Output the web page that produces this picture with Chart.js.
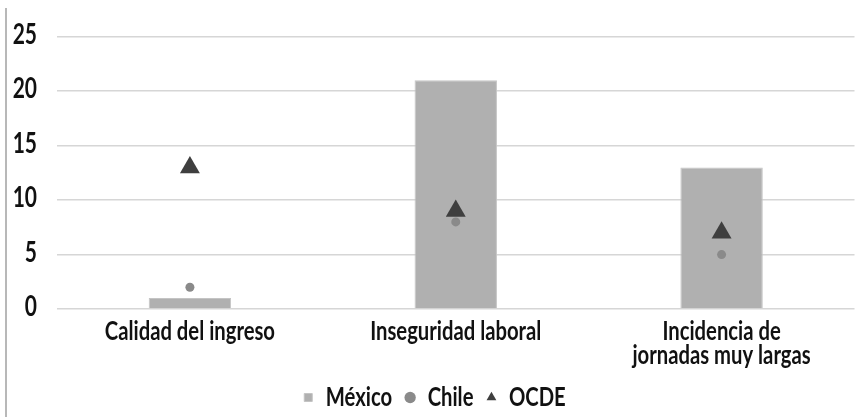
<!DOCTYPE html>
<html>
<head>
<meta charset="utf-8">
<script src="https://cdn.jsdelivr.net/npm/chart.js@4"></script>
<style>
  html, body { margin: 0; padding: 0; background: #fff; }
  #wrap { position: relative; width: 866px; height: 417px; }
</style>
</head>
<body>
<div id="wrap"><canvas id="c" width="866" height="417"></canvas></div>
<script>
// Categories and values per series
const categories = ['Calidad del ingreso', 'Inseguridad laboral', ['Incidencia de', 'jornadas muy largas']];
const mexico = [1, 21, 13];
const chile = [2, 8, 5];
const ocde = [13, 9, 7];
const yTicks = [0, 5, 10, 15, 20, 25];

const FAMILY = 'Lato, "DejaVu Sans", sans-serif';
// Horizontal squeeze applied to every text run, for a condensed look
const TEXT_SQUEEZE = 0.75;

const canvas = document.getElementById('c');
const ctx2d = canvas.getContext('2d');
const rawFillText = ctx2d.fillText.bind(ctx2d);
const rawMeasureText = ctx2d.measureText.bind(ctx2d);
ctx2d.measureText = function (text) {
  const m = rawMeasureText(text);
  return {
    width: m.width * TEXT_SQUEEZE,
    actualBoundingBoxAscent: m.actualBoundingBoxAscent,
    actualBoundingBoxDescent: m.actualBoundingBoxDescent,
    actualBoundingBoxLeft: m.actualBoundingBoxLeft * TEXT_SQUEEZE,
    actualBoundingBoxRight: m.actualBoundingBoxRight * TEXT_SQUEEZE
  };
};
ctx2d.fillText = function (text, x, y, maxWidth) {
  this.save();
  this.translate(x, y);
  this.scale(TEXT_SQUEEZE, 1);
  if (maxWidth !== undefined) rawFillText(text, 0, 0, maxWidth / TEXT_SQUEEZE);
  else rawFillText(text, 0, 0);
  this.restore();
};

// Thin vertical rule along the left edge of the figure
const leftRule = {
  id: 'leftRule',
  beforeDraw(chart) {
    const ctx = chart.ctx;
    ctx.save();
    ctx.strokeStyle = '#a0a0a0';
    ctx.lineWidth = 1.5;
    ctx.beginPath();
    ctx.moveTo(6, 8);
    ctx.lineTo(6, chart.height);
    ctx.stroke();
    ctx.restore();
  }
};

// Fine placement of the legend row under the axis labels
const legendNudge = {
  id: 'legendNudge',
  afterLayout(chart) {
    const dx = -4, dy = -7;
    const lg = chart.legend;
    lg.left += dx; lg.right += dx;
    lg.top += dy; lg.bottom += dy;
  }
};

new Chart(ctx2d, {
  data: {
    labels: categories,
    datasets: [
      {
        type: 'bar',
        label: 'México',
        data: mexico,
        backgroundColor: '#b0b0b0',
        borderColor: '#c4c4c4',
        borderWidth: 1,
        categoryPercentage: 0.31,
        barPercentage: 1,
        pointStyle: 'rect',
        order: 3
      },
      {
        type: 'line',
        label: 'Chile',
        data: chile,
        showLine: false,
        pointStyle: 'circle',
        pointRadius: 4.5,
        pointHoverRadius: 4.5,
        backgroundColor: '#8a8a8a',
        borderColor: '#8a8a8a',
        borderWidth: 0,
        order: 2
      },
      {
        type: 'line',
        label: 'OCDE',
        data: ocde,
        showLine: false,
        pointStyle: 'triangle',
        pointRadius: 11.5,
        pointHoverRadius: 11.5,
        backgroundColor: '#3f3f3f',
        borderColor: '#3f3f3f',
        borderWidth: 0,
        order: 1
      }
    ]
  },
  options: {
    responsive: false,
    animation: false,
    layout: { padding: { left: 12, right: 0, top: 27, bottom: 0 } },
    scales: {
      x: {
        offset: true,
        afterFit(s) { s.height = 68; },
        grid: { display: false, drawTicks: false },
        border: { display: false },
        ticks: {
          color: '#111',
          font: { family: FAMILY, size: 27, weight: 'bold', lineHeight: 0.89 },
          padding: 10,
          maxRotation: 0,
          autoSkip: false
        }
      },
      y: {
        min: 0,
        max: 25,
        afterFit(s) { s.width = 45; },
        afterBuildTicks(s) { s.ticks = yTicks.map(v => ({ value: v })); },
        grid: { color: '#d6d6d6', lineWidth: 1.5, drawTicks: false },
        border: { display: false },
        ticks: {
          color: '#111',
          font: { family: FAMILY, size: 28, weight: 'bold' },
          padding: 20,
          labelOffset: -2
        }
      }
    },
    plugins: {
      tooltip: { enabled: false },
      legend: {
        position: 'bottom',
        reverse: true,
        maxHeight: 40,
        labels: {
          usePointStyle: true,
          boxWidth: 8,
          boxHeight: 8,
          padding: 14,
          color: '#111',
          font: { family: FAMILY, size: 27, weight: 'bold' }
        }
      }
    }
  },
  plugins: [leftRule, legendNudge]
});
</script>
</body>
</html>
